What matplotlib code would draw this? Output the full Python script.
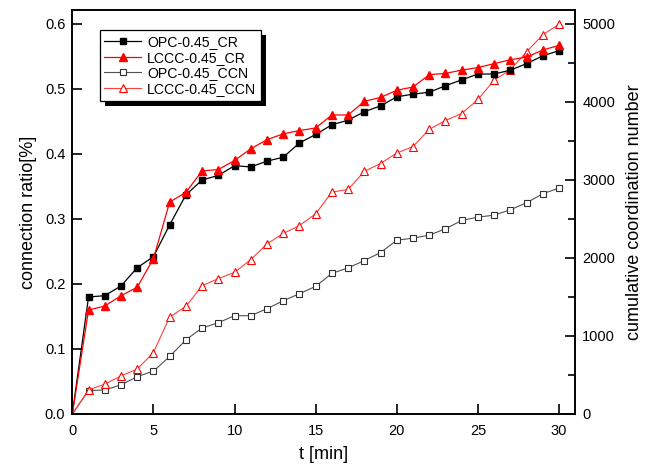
import matplotlib
matplotlib.use("Agg")
import matplotlib.pyplot as plt
from matplotlib.patches import Rectangle
from matplotlib.transforms import IdentityTransform

t = list(range(0, 31))
opc_cr = [0.0, 0.180, 0.182, 0.197, 0.225, 0.242, 0.291, 0.337, 0.360, 0.367, 0.382,
          0.380, 0.389, 0.395, 0.417, 0.430, 0.445, 0.452, 0.465, 0.474, 0.488,
          0.492, 0.495, 0.505, 0.514, 0.523, 0.523, 0.529, 0.539, 0.551, 0.559]
lccc_cr = [0.0, 0.160, 0.166, 0.182, 0.195, 0.239, 0.326, 0.341, 0.374, 0.376, 0.390,
           0.408, 0.422, 0.431, 0.436, 0.440, 0.460, 0.460, 0.481, 0.487, 0.498,
           0.503, 0.522, 0.524, 0.529, 0.533, 0.539, 0.545, 0.549, 0.560, 0.567]
opc_ccn = [0, 299, 308, 373, 479, 549, 737, 951, 1102, 1170, 1260,
           1260, 1350, 1452, 1542, 1636, 1803, 1873, 1967, 2069, 2228,
           2254, 2292, 2374, 2481, 2524, 2549, 2618, 2708, 2824, 2896]
lccc_ccn = [0, 308, 382, 488, 575, 788, 1243, 1379, 1645, 1735, 1816,
            1979, 2181, 2314, 2416, 2567, 2845, 2879, 3111, 3211, 3346,
            3428, 3650, 3762, 3852, 4032, 4280, 4413, 4644, 4863, 4996]

labels = ["OPC-0.45_CR", "LCCC-0.45_CR", "OPC-0.45_CCN", "LCCC-0.45_CCN"]
x_ticks = [0, 5, 10, 15, 20, 25, 30]
y_ticks = [0.0, 0.1, 0.2, 0.3, 0.4, 0.5, 0.6]
y2_ticks = [0, 1000, 2000, 3000, 4000, 5000]

plt.rcParams['font.family'] = ['Liberation Sans', 'DejaVu Sans']

fig = plt.figure(figsize=(6.48, 4.76), dpi=100)
ax = fig.add_axes([0.1116, 0.1303, 0.7762, 0.8487])
ax2 = ax.twinx()

mk = slice(1, None)
l1, = ax.plot(t, opc_cr, color='black', lw=0.9, marker='s', ms=4.3,
              mfc='black', mec='black', markevery=mk, label=labels[0])
l2, = ax.plot(t, lccc_cr, color='red', lw=0.9, marker='^', ms=5.5,
              mfc='red', mec='red', markevery=mk, label=labels[1])
l3, = ax2.plot(t, opc_ccn, color='#505050', lw=0.8, marker='s', ms=4.3,
               mfc='white', mec='#303030', mew=0.8, markevery=mk, label=labels[2])
l4, = ax2.plot(t, lccc_ccn, color='#ff4040', lw=0.8, marker='^', ms=5.5,
               mfc='white', mec='red', mew=0.8, markevery=mk, label=labels[3])

ax.set_xlim(0, 31)
ax.set_ylim(0, 0.6215)
ax2.set_ylim(0, 0.6215 / 0.6 * 5000)

ax.set_xticks(x_ticks)
ax.set_yticks(y_ticks)
ax.set_yticklabels([f"{v:.1f}" for v in y_ticks])
ax2.set_yticks(y2_ticks)
ax2.set_yticks([500, 1500, 2500, 3500, 4500], minor=True)

ax.tick_params(axis='both', direction='in', length=7, width=1.2, labelsize=10.5, pad=5)
ax.tick_params(axis='x', pad=7)
ax2.tick_params(axis='y', which='major', direction='in', length=7, width=1.2, labelsize=10.5, pad=5)
ax2.tick_params(axis='y', which='minor', direction='in', length=5, width=1.2)

for a in (ax, ax2):
    for s in a.spines.values():
        s.set_linewidth(1.2)

ax.set_xlabel("t [min]", fontsize=13, labelpad=6)
ax.set_ylabel("connection ratio[%]", fontsize=13, labelpad=6)
ax2.set_ylabel("cumulative coordination number", fontsize=13, labelpad=8)

leg = ax.legend(handles=[l1, l2, l3, l4], loc='upper left',
                bbox_to_anchor=(0.04, 0.968), fontsize=10.2, frameon=True,
                fancybox=False, edgecolor='black', framealpha=1,
                handlelength=2.6, borderpad=0.35, labelspacing=0.12,
                handletextpad=0.4)
leg.get_frame().set_linewidth(0.9)
leg.set_zorder(6)
ax.set_zorder(ax2.get_zorder() + 1)
ax.patch.set_visible(False)

fig.canvas.draw()
bb = leg.get_window_extent()
shadow = Rectangle((bb.x0 + 5, bb.y0 - 5), bb.width, bb.height,
                   transform=IdentityTransform(), facecolor='black',
                   edgecolor='none', zorder=5.5, clip_on=False)
ax.add_patch(shadow)

fig.savefig("out.png", dpi=100)
